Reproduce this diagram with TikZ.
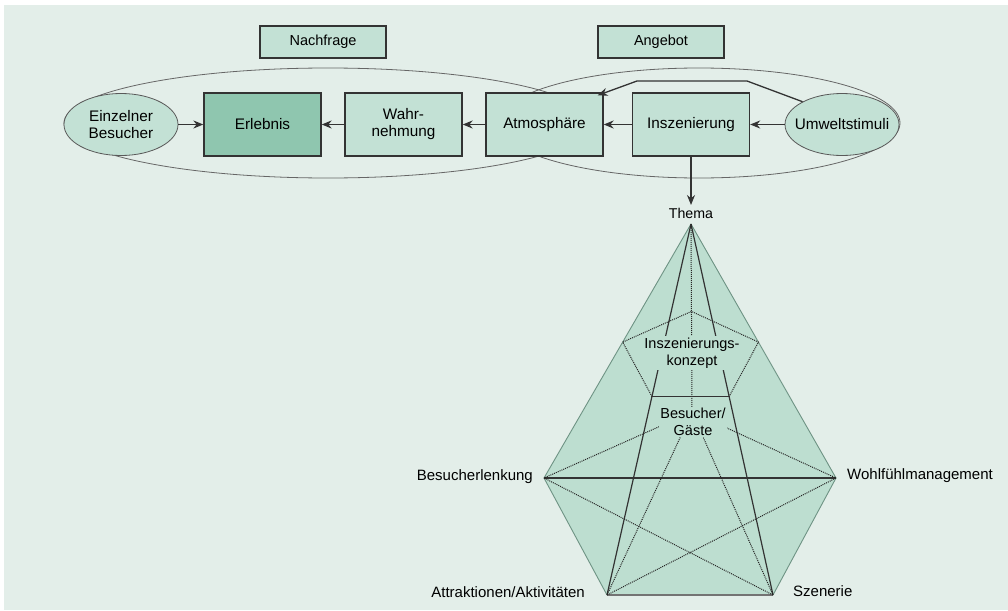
\documentclass[tikz,border=0pt]{standalone}
\usepackage{fontspec}
\setmainfont{Liberation Sans}
\usepackage{tikz}
\usetikzlibrary{calc,arrows.meta,shapes.geometric,backgrounds}
\definecolor{bggreen}{HTML}{E3EEE9}
\definecolor{boxgreen}{HTML}{C3E1D5}
\definecolor{darkgreen}{HTML}{8FC6AF}
\definecolor{pyrgreen}{HTML}{BDDED0}
\definecolor{edgegreen}{HTML}{6E9384}
\newcommand{\linecolor}{black!80}
\newcommand{\thickness}{1.3pt}
\newcommand{\schnitt}{0.465}

\tikzset{
  kasten/.style={draw=\linecolor, line width=\thickness, fill=boxgreen,
    minimum width=117pt, minimum height=63pt, inner sep=2pt, align=center,
    font=\fontsize{15.3}{17}\selectfont},
  kopf/.style={kasten, minimum width=126pt, minimum height=32pt,
    font=\fontsize{14.5}{16}\selectfont},
  oval/.style={ellipse, draw=black!65, line width=0.8pt, fill=boxgreen,
    minimum width=114pt, minimum height=62pt, inner sep=0pt, align=center,
    font=\fontsize{15.3}{17}\selectfont},
  rahmen/.style={draw=black!60, line width=0.8pt},
  pfeil/.style={draw=\linecolor, line width=\thickness, -{Stealth[length=10pt,width=8pt]}},
  beschrift/.style={inner sep=1pt, font=\fontsize{15}{17}\selectfont},
  innen/.style={beschrift, fill=pyrgreen, align=center, inner sep=1.5pt,
    font=\fontsize{14.5}{16.5}\selectfont},
  aussen/.style={draw=edgegreen, line width=0.9pt},
  kante/.style={draw=\linecolor, line width=1.2pt},
  punkte/.style={draw=black!85, line width=1pt, densely dotted}
}

\begin{document}
\begin{tikzpicture}[x=1pt,y=-1pt]
\useasboundingbox (0,0) rectangle (1008,610);
\fill[white] (0,0) rectangle (1008,610);
\fill[bggreen] (4,5) rectangle (1008,610);
%Nachfrage / Angebot
\node[kopf] (nachfrage) at (323,42) {Nachfrage};
\node[kopf] (angebot) at (661,42) {Angebot};
\draw[rahmen] (328,123) ellipse (264pt and 55pt);
\draw[rahmen] (699,123) ellipse (201pt and 55pt);
%Kette
\node[oval] (besucher) at (121,124.5) {Einzelner\\Besucher};
\node[kasten, fill=darkgreen] (erlebnis) at (262.5,124.5) {Erlebnis};
\node[kasten] (wahrnehmung) at (403.5,124.5) {Wahr-\\nehmung};
\node[kasten] (atmosphaere) at (544.5,124.5) {Atmosphäre};
\node[kasten] (inszenierung) at (691,124.5) {Inszenierung};
\node[oval, inner xsep=-8pt] (umwelt) at (842,124.5) {Umweltstimuli};
\draw[pfeil] (besucher) -- (erlebnis);
\draw[pfeil] (wahrnehmung) -- (erlebnis);
\draw[pfeil] (atmosphaere) -- (wahrnehmung);
\draw[pfeil] (inszenierung) -- (atmosphaere);
\draw[pfeil] (umwelt) -- (inszenierung);
\coordinate (knick1) at (747,81);
\coordinate (knick2) at (637,81);
\draw[pfeil] (umwelt.150) -- (knick1) -- (knick2) -- ($(atmosphaere.north east)+(-6,3)$);
%Pyramide
\node[beschrift, inner sep=2.5pt, anchor=base, font=\fontsize{14.2}{16}\selectfont] (thema) at (691,218) {Thema};
\draw[pfeil] (inszenierung) -- (thema);
\coordinate (spitze) at (691,224);
\coordinate (lenk) at (544,478);
\coordinate (wohl) at (836,478);
\coordinate (attr) at (607,595);
\coordinate (szen) at (773,595);
\coordinate (gast) at (692,412);
\coordinate (s1) at ($(spitze)!\schnitt!(gast)$);
\coordinate (s2) at ($(spitze)!\schnitt!(lenk)$);
\coordinate (s3) at ($(spitze)!\schnitt!(wohl)$);
\coordinate (s4) at ($(spitze)!\schnitt!(attr)$);
\coordinate (s5) at ($(spitze)!\schnitt!(szen)$);
\fill[pyrgreen] (spitze) -- (lenk) -- (attr) -- (szen) -- (wohl) -- cycle;
\draw[aussen] (spitze) -- (lenk) -- (attr);
\draw[aussen] (szen) -- (wohl) -- (spitze);
\draw[kante, draw=black!55] (attr) -- (szen);
\draw[kante] (spitze) -- (attr);
\draw[kante] (spitze) -- (szen);
\draw[kante] (lenk) -- (wohl);
\draw[punkte] (spitze) -- (gast);
\draw[punkte] (gast) -- (lenk);
\draw[punkte] (gast) -- (wohl);
\draw[punkte] (gast) -- (attr);
\draw[punkte] (gast) -- (szen);
\draw[punkte] (lenk) -- (szen);
\draw[punkte] (attr) -- (wohl);
%Schnitt
\draw[punkte] (s4) -- (s2) -- (s1) -- (s3) -- (s5);
\draw[kante] (s4) -- (s5);
\node[innen] (konzept) at (692,353) {Inszenierungs-\\konzept};
\node[innen] (gaeste) at (693,422) {Besucher/\\Gäste};
\node[beschrift, anchor=base east] (lenkung) at (534,480) {Besucherlenkung};
\node[beschrift, anchor=base west] (wohlfuehl) at (846,479) {Wohlfühlmanagement};
\node[beschrift, anchor=base east] (attraktion) at (586,597) {Attraktionen/Aktivitäten};
\node[beschrift, anchor=base west] (szenerie) at (792,596) {Szenerie};
\end{tikzpicture}
\end{document}
